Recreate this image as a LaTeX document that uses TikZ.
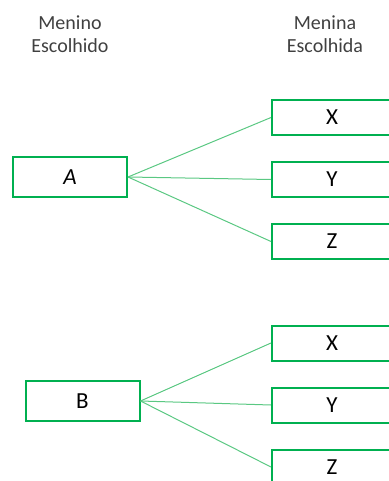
\documentclass[tikz,border=0pt]{standalone}
\usepackage{fontspec}
\setmainfont{Carlito}
\usetikzlibrary{positioning}
\definecolor{verde}{RGB}{0,176,80}
\definecolor{verdeclaro}{RGB}{90,200,130}
\definecolor{cinza}{RGB}{64,64,64}
\tikzstyle{block} = [draw=verde, line width=2pt, rectangle,
minimum height=40pt, minimum width=114pt, font=\fontsize{23}{25}\selectfont]
\tikzstyle{girlbox} = [block, minimum height=35pt, minimum width=120pt, anchor=west]
\tikzstyle{link} = [draw=verdeclaro, line width=1pt]
\tikzstyle{title} = [align=center, text=cinza, font=\fontsize{20}{23}\selectfont]

\begin{document}
\begin{tikzpicture}[x=1pt, y=-1pt]
	\useasboundingbox (0,0) rectangle (388,481);

	\node [title] (boy title) at (70,34) {Menino\\Escolhido};
	\node [title] (girl title) at (325,34) {Menina\\Escolhida};

	\node [block] (A) at (70,177) {\textit{A}};
	\node [girlbox] (xa) at (271,117.5) {X};
	\node [girlbox, below=25pt of xa] (ya) {Y};
	\node [girlbox, below=25pt of ya] (za) {Z};

	\node [block] (B) at (82.5,401) {B};
	\node [girlbox] (xb) at (271,343) {X};
	\node [girlbox, below=25pt of xb] (yb) {Y};
	\node [girlbox, below=25pt of yb] (zb) {Z};

	\draw [link] (A.east) -- (xa.west);
	\draw [link] (A.east) -- (ya.west);
	\draw [link] (A.east) -- (za.west);
	\draw [link] (B.east) -- (xb.west);
	\draw [link] (B.east) -- (yb.west);
	\draw [link] (B.east) -- (zb.west);

\end{tikzpicture}
\end{document}
